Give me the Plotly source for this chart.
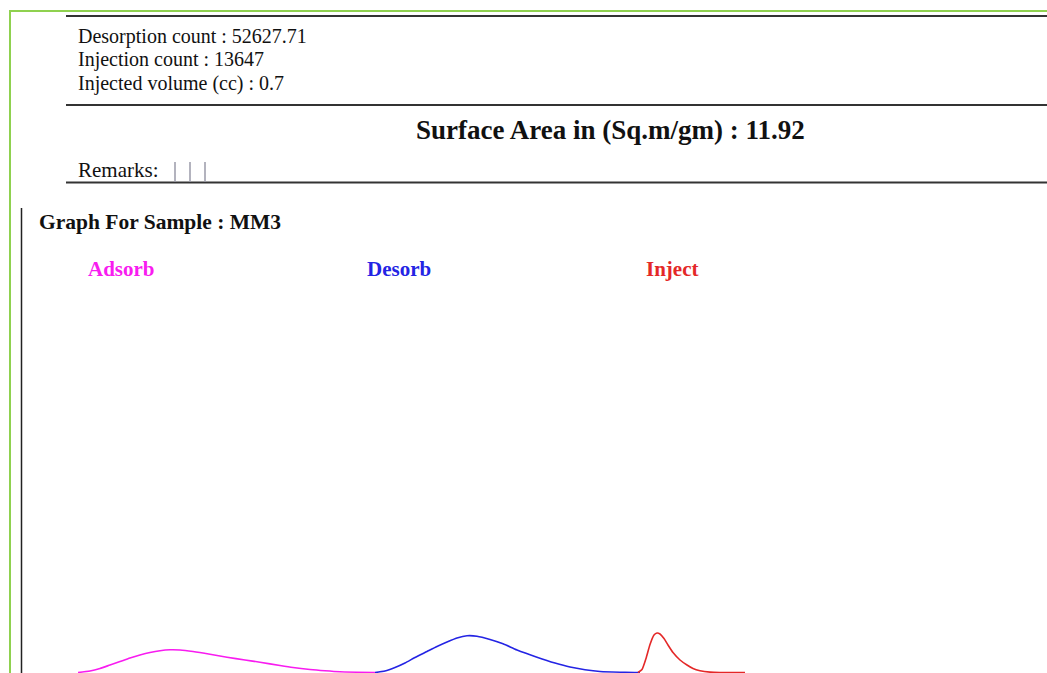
import plotly.graph_objects as go

# ---------------- data ----------------
info_labels = ["Desorption count", "Injection count", "Injected volume (cc)"]
info_values = ["52627.71", "13647", "0.7"]
surface_area = "11.92"
sample_name = "MM3"
series_names = ["Adsorb", "Desorb", "Inject"]
series_colors = ["#f81cf0", "#2424e4", "#e42828"]

# time (arbitrary units) and detector signal (arbitrary units)
adsorb_t = [0, 12, 22, 32, 42, 52, 62, 72, 82, 92, 102, 115, 132, 149, 167, 182, 202, 215, 232, 247, 262, 297]
adsorb_v = [0, 1.5, 4, 7.5, 11, 14.5, 17.5, 20, 21.8, 22.7, 22.5, 21, 18.3, 15.3, 12.5, 10.3, 7, 5, 3, 1.7, 0.7, 0]

desorb_t = [297, 307, 317, 327, 337, 349, 359, 369, 379, 389, 399, 412, 425, 439, 459, 477, 492, 507, 522, 547, 562]
desorb_v = [0, 1.5, 5, 9.5, 15, 21, 26, 30.5, 34.5, 36.8, 36.3, 33, 28.7, 22.5, 15.3, 9.5, 5.5, 2.8, 1, 0.2, 0]

inject_t = [560, 564, 568, 572, 576, 579, 582, 586, 590, 595, 602, 609, 615, 622, 632, 642, 667]
inject_v = [0, 3, 14, 28, 37.5, 39.5, 38.5, 34, 27.5, 20, 12.5, 7.5, 4, 1.8, 0.4, 0, 0]

W, H = 1047, 673


def X(px):
    return px / W


def Y(py):
    return 1 - py / H


fig = go.Figure()
for t, v, name, col in zip([adsorb_t, desorb_t, inject_t],
                           [adsorb_v, desorb_v, inject_v],
                           series_names, series_colors):
    fig.add_trace(go.Scatter(x=t, y=v, mode="lines", name=name,
                             line=dict(color=col, width=1.6, shape="spline", smoothing=0.6),
                             showlegend=False, hoverinfo="skip"))

serif = "Liberation Serif"
ann = []
for i, (lab, val) in enumerate(zip(info_labels, info_values)):
    ann.append(dict(x=X(75.5), y=Y(36 + i * 23.5), xref="paper", yref="paper",
                    text=f"{lab} : {val}", showarrow=False, xanchor="left", yanchor="middle",
                    font=dict(family=serif, size=20, color="#111")))
ann.append(dict(x=X(610), y=Y(130), xref="paper", yref="paper",
                text=f"<b>Surface Area in (Sq.m/gm) : {surface_area}</b>", showarrow=False,
                xanchor="center", yanchor="middle", font=dict(family=serif, size=27, color="#111")))
ann.append(dict(x=X(75.5), y=Y(170), xref="paper", yref="paper", text="Remarks:", showarrow=False,
                xanchor="left", yanchor="middle", font=dict(family=serif, size=21, color="#111")))
ann.append(dict(x=X(37), y=Y(222), xref="paper", yref="paper",
                text=f"<b>Graph For Sample : {sample_name}</b>", showarrow=False,
                xanchor="left", yanchor="middle", font=dict(family=serif, size=21.5, color="#111")))
for name, col, px in zip(series_names, series_colors, [85.5, 364.5, 643.5]):
    ann.append(dict(x=X(px), y=Y(269), xref="paper", yref="paper", text=f"<b>{name}</b>",
                    showarrow=False, xanchor="left", yanchor="middle",
                    font=dict(family=serif, size=21, color=col)))

shapes = []
green = "#8fd14f"
# outer green frame
shapes.append(dict(type="line", xref="paper", yref="paper", x0=X(9), x1=1, y0=Y(11), y1=Y(11),
                   line=dict(color=green, width=2)))
shapes.append(dict(type="line", xref="paper", yref="paper", x0=X(10), x1=X(10), y0=Y(11), y1=0,
                   line=dict(color=green, width=2)))
# horizontal rules
for py in [16, 105, 182.5]:
    shapes.append(dict(type="line", xref="paper", yref="paper", x0=X(66), x1=1, y0=Y(py), y1=Y(py),
                       line=dict(color="#333", width=2)))
# remarks cell separators
for px in [175, 190, 205]:
    shapes.append(dict(type="line", xref="paper", yref="paper", x0=X(px), x1=X(px), y0=Y(162), y1=Y(182),
                       line=dict(color="#9a9aa8", width=1.5)))
# graph frame left edge
shapes.append(dict(type="line", xref="paper", yref="paper", x0=X(21.5), x1=X(21.5), y0=Y(208), y1=0,
                   line=dict(color="#222", width=1.5)))

fig.update_layout(
    width=W, height=H, autosize=False,
    margin=dict(l=0, r=0, t=0, b=0),
    paper_bgcolor="white", plot_bgcolor="white",
    xaxis=dict(range=[-78, 969], visible=False, fixedrange=True),
    yaxis=dict(range=[-0.5, 672.5], visible=False, fixedrange=True),
    annotations=ann, shapes=shapes,
)

fig.write_html("out.html", config={"displayModeBar": False},
               post_script="document.body.style.margin='0';document.body.style.overflow='hidden';")
